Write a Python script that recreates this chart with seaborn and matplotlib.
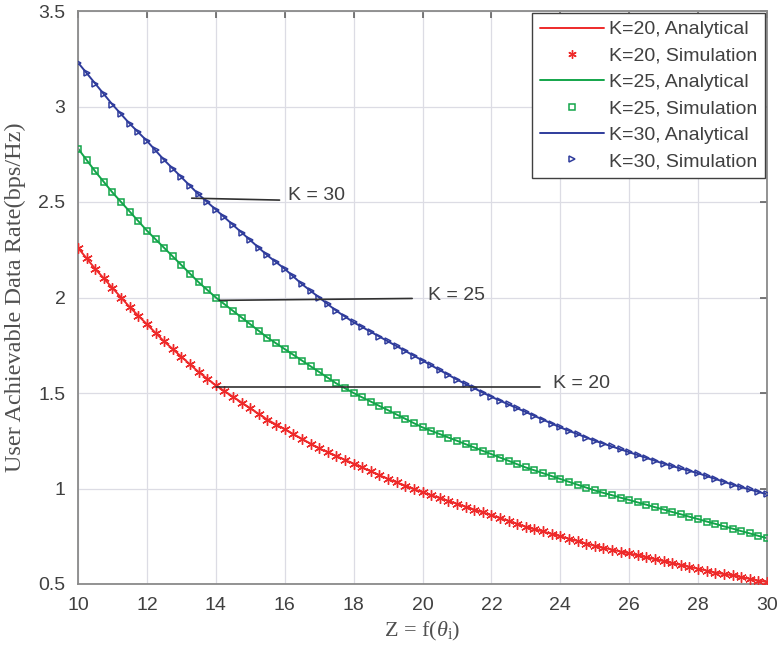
import numpy as np
import pandas as pd
import matplotlib
matplotlib.use("Agg")
import matplotlib.pyplot as plt
import seaborn as sns
from matplotlib.lines import Line2D

# ---------------- data ----------------
z = [10.0, 10.25, 10.5, 10.75, 11.0, 11.25, 11.5, 11.75, 12.0, 12.25, 12.5, 12.75,
     13.0, 13.25, 13.5, 13.75, 14.0, 14.25, 14.5, 14.75, 15.0, 15.25, 15.5, 15.75,
     16.0, 16.25, 16.5, 16.75, 17.0, 17.25, 17.5, 17.75, 18.0, 18.25, 18.5, 18.75,
     19.0, 19.25, 19.5, 19.75, 20.0, 20.25, 20.5, 20.75, 21.0, 21.25, 21.5, 21.75,
     22.0, 22.25, 22.5, 22.75, 23.0, 23.25, 23.5, 23.75, 24.0, 24.25, 24.5, 24.75,
     25.0, 25.25, 25.5, 25.75, 26.0, 26.25, 26.5, 26.75, 27.0, 27.25, 27.5, 27.75,
     28.0, 28.25, 28.5, 28.75, 29.0, 29.25, 29.5, 29.75, 30.0]

rate_k20 = [2.26, 2.205, 2.15, 2.10, 2.05, 2.00, 1.95, 1.905, 1.86, 1.815, 1.77, 1.73,
            1.69, 1.65, 1.61, 1.575, 1.54, 1.51, 1.48, 1.45, 1.42, 1.39, 1.36, 1.335,
            1.31, 1.285, 1.26, 1.235, 1.21, 1.19, 1.17, 1.15, 1.13, 1.11, 1.09, 1.07,
            1.05, 1.032, 1.015, 0.997, 0.98, 0.965, 0.95, 0.935, 0.92, 0.905, 0.89, 0.875,
            0.86, 0.845, 0.83, 0.815, 0.80, 0.787, 0.775, 0.762, 0.75, 0.737, 0.725, 0.712,
            0.70, 0.69, 0.68, 0.67, 0.66, 0.65, 0.64, 0.63, 0.62, 0.61, 0.60, 0.59,
            0.58, 0.57, 0.56, 0.552, 0.545, 0.536, 0.527, 0.518, 0.51]

rate_k25 = [2.78, 2.72, 2.66, 2.605, 2.55, 2.50, 2.45, 2.40, 2.35, 2.305, 2.26, 2.215,
            2.17, 2.125, 2.08, 2.04, 2.00, 1.965, 1.93, 1.895, 1.86, 1.825, 1.79, 1.76,
            1.73, 1.70, 1.67, 1.64, 1.61, 1.58, 1.55, 1.525, 1.50, 1.477, 1.455, 1.432,
            1.41, 1.387, 1.365, 1.342, 1.32, 1.302, 1.285, 1.267, 1.25, 1.232, 1.215, 1.197,
            1.18, 1.162, 1.145, 1.127, 1.11, 1.095, 1.08, 1.065, 1.05, 1.035, 1.02, 1.005,
            0.99, 0.977, 0.965, 0.952, 0.94, 0.927, 0.915, 0.902, 0.89, 0.877, 0.865, 0.852,
            0.84, 0.827, 0.815, 0.802, 0.79, 0.777, 0.765, 0.752, 0.74]

rate_k30 = [3.23, 3.175, 3.12, 3.065, 3.01, 2.96, 2.91, 2.865, 2.82, 2.77, 2.72, 2.675,
            2.63, 2.585, 2.54, 2.50, 2.46, 2.42, 2.38, 2.34, 2.30, 2.26, 2.22, 2.185,
            2.15, 2.11, 2.07, 2.035, 2.00, 1.965, 1.93, 1.90, 1.87, 1.845, 1.82, 1.795,
            1.77, 1.745, 1.72, 1.695, 1.67, 1.645, 1.62, 1.595, 1.57, 1.547, 1.525, 1.502,
            1.48, 1.46, 1.44, 1.42, 1.40, 1.38, 1.36, 1.34, 1.32, 1.302, 1.285, 1.267,
            1.25, 1.235, 1.22, 1.205, 1.19, 1.175, 1.16, 1.145, 1.13, 1.117, 1.105, 1.092,
            1.08, 1.065, 1.05, 1.035, 1.02, 1.007, 0.995, 0.982, 0.97]

series_names = ["K=20", "K=25", "K=30"]
x_ticks = [10, 12, 14, 16, 18, 20, 22, 24, 26, 28, 30]
y_ticks = [0.5, 1, 1.5, 2, 2.5, 3, 3.5]
y_ticklabels = ["0.5", "1", "1.5", "2", "2.5", "3", "3.5"]
annot_labels = ["K = 30", "K = 25", "K = 20"]

# ---------------- style ----------------
sns.set_theme(style="whitegrid")
plt.rcParams["font.family"] = ["Liberation Sans", "DejaVu Sans"]
plt.rcParams["mathtext.fontset"] = "custom"
plt.rcParams["mathtext.rm"] = "Liberation Serif"
plt.rcParams["mathtext.it"] = "Liberation Serif:italic"

colors = {"K=20": "#ee2a2a", "K=25": "#13a54a", "K=30": "#2f3c9c"}
markers = {"K=20": (6, 2, 0), "K=25": "s", "K=30": ">"}
msizes = {"K=20": 7.5, "K=25": 5, "K=30": 5}
text_c = "#404040"

df = pd.concat([
    pd.DataFrame({"z": z, "rate": rate_k20, "K": "K=20"}),
    pd.DataFrame({"z": z, "rate": rate_k25, "K": "K=25"}),
    pd.DataFrame({"z": z, "rate": rate_k30, "K": "K=30"}),
], ignore_index=True)

fig = plt.figure(figsize=(7.79, 6.56), dpi=100)
ax = fig.add_axes([78 / 779, 72 / 656, 689 / 779, 573 / 656])


def marker_kw(name):
    if markers[name] == (6, 2, 0):
        return dict(linestyle="none", marker=markers[name], ms=msizes[name],
                    mec=colors[name], mew=1.0)
    return dict(linestyle="none", marker=markers[name], ms=msizes[name],
                mfc="none", mec=colors[name], mew=1.1)


for name in series_names:
    sub = df[df["K"] == name]
    sns.lineplot(data=sub, x="z", y="rate", color=colors[name], lw=1.4,
                 ax=ax, legend=False, zorder=2)
    ax.plot(sub["z"], sub["rate"], zorder=3, **marker_kw(name))

ax.set_xlim(10, 30)
ax.set_ylim(0.5, 3.5)
ax.set_xticks(x_ticks)
ax.set_yticks(y_ticks)
ax.set_yticklabels(y_ticklabels)
ax.grid(True, color="#dcdce4", lw=0.9)
ax.set_facecolor("white")
for sp in ax.spines.values():
    sp.set_visible(True)
    sp.set_color("#8a8a8a")
    sp.set_linewidth(1.3)
ax.tick_params(axis="both", direction="in", length=5, width=1.1, colors="#555555",
               labelcolor=text_c, labelsize=14, top=True, right=True, pad=9)

ax.set_xlabel(r"Z = f($\theta_{\rm i}$)", family="Liberation Serif", fontsize=16,
              color="#505050", labelpad=5)
ax.set_ylabel("User Achievable Data Rate(bps/Hz)", family="Liberation Serif",
              fontsize=17.5, color="#505050", labelpad=9)

# annotations
annots = [
    (13.3, 2.52, 15.85, 2.51, 16.1, annot_labels[0]),
    (14.1, 1.985, 19.7, 1.995, 20.15, annot_labels[1]),
    (14.0, 1.53, 23.4, 1.53, 23.8, annot_labels[2]),
]
for x0, y0, x1, y1, xt, lab in annots:
    ax.plot([x0, x1], [y0, y1], color="#303030", lw=1.2, zorder=4)
    ax.text(xt, (y0 + y1) / 2 + 0.02, lab, fontsize=14, color=text_c,
            va="center", ha="left")

handles = []
labels = []
for name in series_names:
    handles.append(Line2D([0], [0], color=colors[name], lw=1.4))
    labels.append(f"{name}, Analytical")
    kw = marker_kw(name)
    kw["ms"] = min(kw["ms"], 6)
    handles.append(Line2D([0], [0], **kw))
    labels.append(f"{name}, Simulation")

leg = ax.legend(handles, labels, loc="upper right", fontsize=14, frameon=True,
                fancybox=False, edgecolor="#404040", framealpha=1,
                borderaxespad=0.1, handlelength=3.3, handletextpad=0.25,
                labelspacing=0.45, borderpad=0.4, labelcolor=text_c)
leg.get_frame().set_linewidth(1.0)

fig.savefig("out.png", dpi=100, facecolor="white")
